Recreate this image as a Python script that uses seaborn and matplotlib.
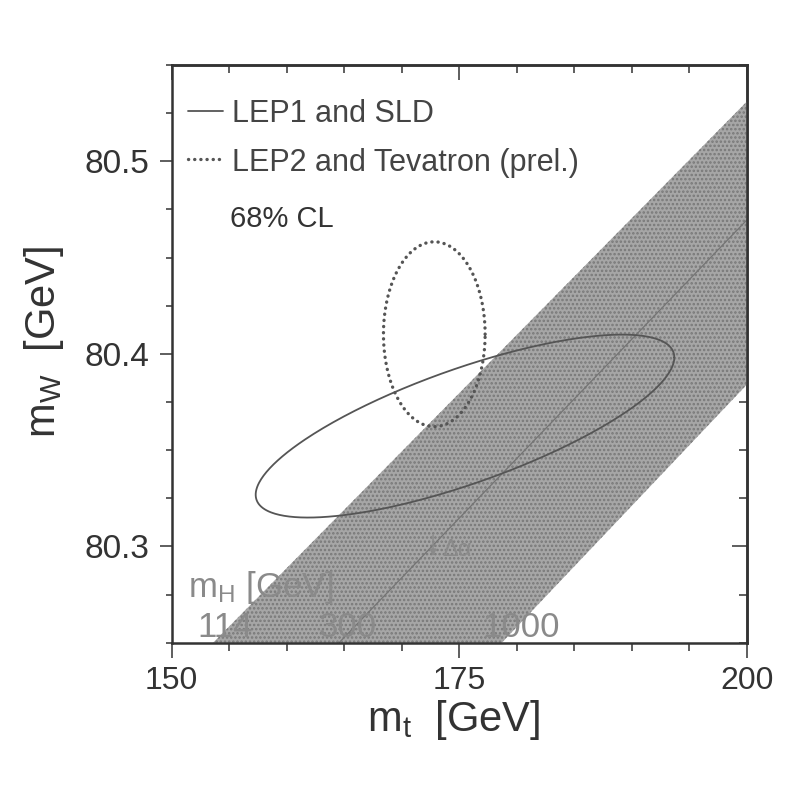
import numpy as np
import matplotlib
matplotlib.use("Agg")
import matplotlib.pyplot as plt
import seaborn as sns
import pandas as pd

# ---------------- data ----------------
x_limits = (150, 200)
y_limits = (80.25, 80.55)
x_major = [150, 175, 200]
x_labels = ["150", "175", "200"]
y_major = [80.3, 80.4, 80.5]
y_labels = ["80.3", "80.4", "80.5"]

# SM band (m_H = 114 ... 1000 GeV)
band_upper_mt = [153.6, 200.0]
band_upper_mw = [80.25, 80.531]
band_lower_mt = [178.7, 200.0]
band_lower_mw = [80.25, 80.384]
# m_H = 300 GeV line inside the band
mh300_mt = [164.55, 200.0]
mh300_mw = [80.25, 80.4695]

# 68% CL contours: centre, half-widths, correlation
lep1_center = (175.5, 80.3625)
lep1_sigma = (18.2, 0.0475)
lep1_rho = 0.75
lep2_center = (172.83, 80.4102)
lep2_sigma = (4.42, 0.048)
lep2_rho = 0.0

mh_labels = ["114", "300", "1000"]
mh_label_mt = [154.6, 165.3, 180.4]
mh_label_mw = 80.253

legend_labels = ["LEP1 and SLD", "LEP2 and Tevatron (prel.)"]

# ---------------- style ----------------
sns.set_theme(style="white")
plt.rcParams["font.family"] = ["Liberation Sans", "DejaVu Sans"]
plt.rcParams["mathtext.fontset"] = "custom"
plt.rcParams["mathtext.rm"] = "Liberation Sans"
plt.rcParams["mathtext.it"] = "Liberation Sans:italic"
plt.rcParams["mathtext.default"] = "rm"
plt.rcParams["hatch.linewidth"] = 1.2

dark = "#333333"
line_col = "#555555"
grey_txt = "#8a8a8a"

fig = plt.figure(figsize=(7.98, 7.99), dpi=100)
ax = fig.add_axes([0.2152, 0.1956, 0.7206, 0.7230])
ax.set_facecolor("white")


def contour(center, sigma, rho, n=400):
    t = np.linspace(0, 2 * np.pi, n)
    x = center[0] + sigma[0] * np.cos(t)
    y = center[1] + sigma[1] * (rho * np.cos(t) + np.sqrt(1 - rho ** 2) * np.sin(t))
    return pd.DataFrame({"mt": x, "mw": y})


# band
poly_x = np.concatenate([band_upper_mt, band_lower_mt[::-1]])
poly_y = np.concatenate([band_upper_mw, band_lower_mw[::-1]])
ax.fill(poly_x, poly_y, facecolor="#a6a6a6", edgecolor="#787878",
        hatch="....", linewidth=0, zorder=1)

sns.lineplot(x=mh300_mt, y=mh300_mw, ax=ax, color="#747474", lw=0.9,
             sort=False, estimator=None, zorder=2)

# contours
d1 = contour(lep1_center, lep1_sigma, lep1_rho)
sns.lineplot(data=d1, x="mt", y="mw", ax=ax, color=line_col, lw=1.3,
             sort=False, estimator=None, zorder=3)
d2 = contour(lep2_center, lep2_sigma, lep2_rho)
sns.lineplot(data=d2, x="mt", y="mw", ax=ax, color=line_col, lw=2.4,
             linestyle=(0, (0.05, 1.8)), dash_capstyle="round",
             sort=False, estimator=None, zorder=3)

# band labels
ax.text(151.4, 80.274, r"m$_\mathrm{H}$ [GeV]", color=grey_txt, fontsize=25,
        ha="left", va="baseline", zorder=4)
for lab, xm in zip(mh_labels, mh_label_mt):
    ax.text(xm, mh_label_mw, lab, color=grey_txt, fontsize=25,
            ha="center", va="baseline", zorder=4)
ax.annotate("", xy=(172.72, 80.2935), xytext=(172.72, 80.3075),
            arrowprops=dict(arrowstyle="-|>", color=grey_txt, lw=1.0,
                            mutation_scale=10), zorder=4)
ax.text(173.5, 80.2948, "Δα", color=grey_txt, fontsize=17,
        ha="left", va="baseline", zorder=4)

# legend (manual)
ax.plot([0.0283, 0.0892], [0.9204, 0.9204], transform=ax.transAxes,
        color=line_col, lw=1.3)
ax.plot([0.0283, 0.0892], [0.8380, 0.8380], transform=ax.transAxes,
        color=line_col, lw=2.4, linestyle=(0, (0.05, 1.8)),
        dash_capstyle="round")
ax.text(0.1049, 0.9013, legend_labels[0], transform=ax.transAxes,
        fontsize=22, color="#444444", va="baseline")
ax.text(0.1049, 0.8160, legend_labels[1], transform=ax.transAxes,
        fontsize=22, color="#444444", va="baseline")
ax.text(0.1014, 0.7193, "68% CL", transform=ax.transAxes,
        fontsize=21, color="#333333", va="baseline")

# axes
ax.set_xlim(*x_limits)
ax.set_ylim(*y_limits)
ax.set_xticks(x_major)
ax.set_xticklabels(x_labels)
ax.set_yticks(y_major)
ax.set_yticklabels(y_labels)
ax.set_xticks(np.arange(150, 200.1, 5), minor=True)
ax.set_yticks(np.arange(80.25, 80.551, 0.025), minor=True)
ax.tick_params(axis="x", which="major", direction="out", length=11, width=1.1,
               color=dark, labelsize=23, labelcolor=dark, pad=6, bottom=True)
ax.tick_params(axis="x", which="minor", direction="out", length=5.5, width=1.1,
               color=dark, bottom=True)
ax.tick_params(axis="y", which="major", direction="out", length=9, width=1.1,
               color=dark, labelsize=24, labelcolor=dark, pad=7, left=True)
ax.tick_params(axis="y", which="minor", direction="out", length=4.5, width=1.1,
               color=dark, left=True)
for s in ax.spines.values():
    s.set_color(dark)
    s.set_linewidth(1.8)

top = ax.secondary_xaxis("top")
top.set_xticks(x_major)
top.set_xticks(np.arange(150, 200.1, 5), minor=True)
top.tick_params(which="major", direction="in", length=11, width=1.1, color=dark,
                labeltop=False)
top.tick_params(which="minor", direction="in", length=5.5, width=1.1, color=dark)
top.spines["top"].set_linewidth(1.8)
top.spines["top"].set_color(dark)

right = ax.secondary_yaxis("right")
right.set_yticks(y_major)
right.set_yticks(np.arange(80.25, 80.551, 0.025), minor=True)
right.tick_params(which="major", direction="in", length=11, width=1.1, color=dark,
                  labelright=False)
right.tick_params(which="minor", direction="in", length=5.5, width=1.1, color=dark)
right.spines["right"].set_linewidth(1.8)
right.spines["right"].set_color(dark)

ax.set_xlabel(r"m$_\mathrm{t}$  [GeV]", fontsize=30, color=dark)
ax.set_ylabel(r"m$_\mathrm{W}$  [GeV]", fontsize=30, color=dark)
ax.xaxis.set_label_coords(0.49, -0.095)
ax.yaxis.set_label_coords(-0.183, 0.52)

fig.savefig("out.png", dpi=100, facecolor="white")
